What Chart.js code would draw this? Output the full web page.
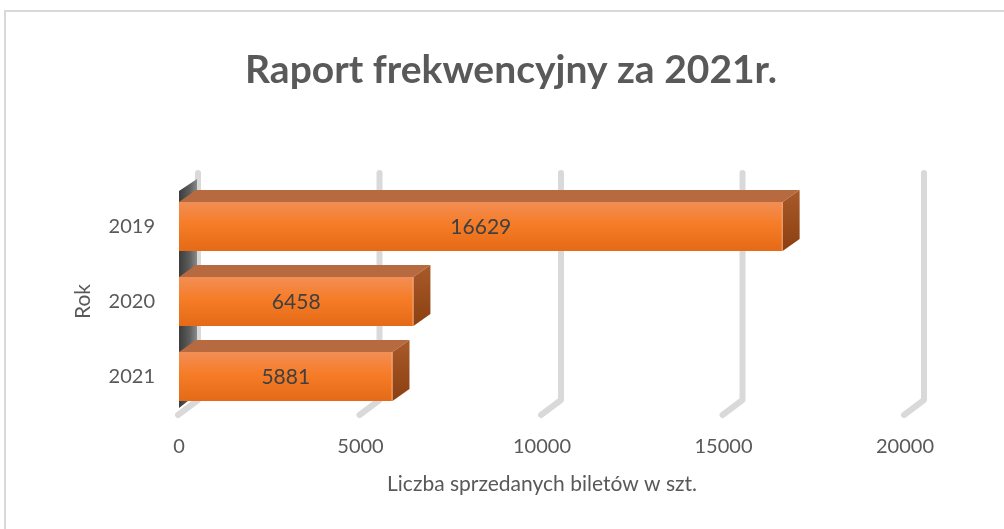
<!DOCTYPE html>
<html>
<head>
<meta charset="utf-8">
<script src="https://cdn.jsdelivr.net/npm/chart.js@4.4.1/dist/chart.umd.min.js"></script>
<style>
  html, body { margin: 0; padding: 0; background: #ffffff; }
  canvas { display: block; }
</style>
</head>
<body>
<canvas id="c" width="1004" height="529"></canvas>
<script>
// ---- data ----
const categories = ['2019', '2020', '2021'];
const ticketsSold = [16629, 6458, 5881];
const xTickValues = [0, 5000, 10000, 15000, 20000];
const xTickLabels = ['0', '5000', '10000', '15000', '20000'];
const chartTitle = 'Raport frekwencyjny za 2021r.';
const xAxisTitle = 'Liczba sprzedanych biletów w szt.';
const yAxisTitle = 'Rok';

const FONT = 'Lato, "Open Sans", sans-serif';
const TXT = '#595959';

// 3D depth offsets
const BAR_DX = 17, BAR_DY = -12;
const GRID_DX = 19, GRID_DY = -16;

const background3D = {
  id: 'background3D',
  beforeDraw(chart) {
    const ctx = chart.ctx;
    ctx.save();
    ctx.fillStyle = '#ffffff';
    ctx.fillRect(0, 0, chart.width, chart.height);
    ctx.strokeStyle = '#d9d9d9';
    ctx.lineWidth = 2;
    ctx.strokeRect(5, 11, chart.width + 20, chart.height + 20);
    ctx.restore();
  },
  beforeDatasetsDraw(chart) {
    const ctx = chart.ctx;
    const area = chart.chartArea;
    const xs = chart.scales.x;
    ctx.save();
    // gridlines (back wall + floor foot)
    ctx.strokeStyle = '#d9d9d9';
    ctx.lineWidth = 6;
    ctx.lineCap = 'round';
    ctx.lineJoin = 'round';
    xs.ticks.forEach(t => {
      const xf = xs.getPixelForValue(t.value);
      const xb = xf + GRID_DX;
      ctx.beginPath();
      ctx.moveTo(xb, area.top + GRID_DY);
      ctx.lineTo(xb, area.bottom + 2 + GRID_DY);
      ctx.lineTo(xf - 1, area.bottom + 1);
      ctx.stroke();
    });
    // left side wall
    const xl = area.left;
    const g = ctx.createLinearGradient(xl, 0, xl + 18, 0);
    g.addColorStop(0, '#3c3c3c');
    g.addColorStop(0.6, '#5e5e5e');
    g.addColorStop(1, '#8a8a8a');
    ctx.fillStyle = g;
    ctx.beginPath();
    ctx.moveTo(xl, area.top + 2);
    ctx.lineTo(xl + 18, area.top - 10);
    ctx.lineTo(xl + 18, area.bottom - 20);
    ctx.lineTo(xl, area.bottom - 6);
    ctx.closePath();
    ctx.fill();
    ctx.restore();
  },
  afterDatasetsDraw(chart) {
    const ctx = chart.ctx;
    const meta = chart.getDatasetMeta(0);
    ctx.save();
    meta.data.forEach((bar, i) => {
      const p = bar.getProps(['x', 'y', 'base', 'height'], true);
      const top = p.y - p.height / 2;
      const bot = p.y + p.height / 2;
      // top face
      ctx.fillStyle = '#b76a40';
      ctx.beginPath();
      ctx.moveTo(p.base, top);
      ctx.lineTo(p.x, top);
      ctx.lineTo(p.x + BAR_DX, top + BAR_DY);
      ctx.lineTo(p.base + BAR_DX, top + BAR_DY);
      ctx.closePath();
      ctx.fill();
      // right side face
      const sg = ctx.createLinearGradient(0, top + BAR_DY, 0, bot);
      sg.addColorStop(0, '#a85a2a');
      sg.addColorStop(1, '#8c3f10');
      ctx.fillStyle = sg;
      ctx.beginPath();
      ctx.moveTo(p.x, top);
      ctx.lineTo(p.x + BAR_DX, top + BAR_DY);
      ctx.lineTo(p.x + BAR_DX, bot + BAR_DY);
      ctx.lineTo(p.x, bot);
      ctx.closePath();
      ctx.fill();
      // front edge highlight
      ctx.strokeStyle = 'rgba(250,170,120,0.8)';
      ctx.lineWidth = 1;
      ctx.beginPath();
      ctx.moveTo(p.x - 0.5, top);
      ctx.lineTo(p.x - 0.5, bot);
      ctx.stroke();
      // value label
      ctx.fillStyle = '#404040';
      ctx.font = '21px ' + FONT;
      ctx.textAlign = 'center';
      ctx.textBaseline = 'middle';
      ctx.fillText(String(ticketsSold[i]), (p.base + p.x) / 2, p.y + 1);
    });
    ctx.restore();
  }
};

function frontFill(context) {
  const chart = context.chart;
  const ys = chart.scales && chart.scales.y;
  if (!chart.chartArea || !ys) return '#f47b26';
  const c = ys.getPixelForValue(context.dataIndex);
  const h = 49;
  const g = chart.ctx.createLinearGradient(0, c - h / 2, 0, c + h / 2);
  g.addColorStop(0, '#f28e55');
  g.addColorStop(0.45, '#f67c27');
  g.addColorStop(1, '#e46a17');
  return g;
}

new Chart(document.getElementById('c'), {
  type: 'bar',
  data: {
    labels: categories,
    datasets: [{
      data: ticketsSold,
      backgroundColor: frontFill,
      borderWidth: 0,
      barPercentage: 0.653,
      categoryPercentage: 1
    }]
  },
  plugins: [background3D],
  options: {
    indexAxis: 'y',
    responsive: false,
    animation: false,
    layout: { padding: { left: 18, right: 0, top: 0, bottom: 0 } },
    plugins: {
      legend: { display: false },
      tooltip: { enabled: false },
      title: {
        display: true,
        text: chartTitle,
        color: TXT,
        font: { family: FONT, size: 39, weight: 'bold', lineHeight: 1.2 },
        padding: { top: 46.6, bottom: 95.6 }
      }
    },
    scales: {
      x: {
        type: 'linear',
        position: 'bottom',
        min: 0,
        max: 20000,
        afterBuildTicks(scale) { scale.ticks = xTickValues.map(v => ({ value: v })); },
        afterFit(scale) { scale.height = 115; },
        grid: { display: false, drawTicks: false },
        border: { display: false },
        ticks: {
          color: TXT,
          font: { family: FONT, size: 20 },
          padding: 21,
          maxRotation: 0,
          autoSkip: false,
          callback: (v, i) => xTickLabels[i]
        },
        title: {
          display: true,
          text: xAxisTitle,
          color: TXT,
          font: { family: FONT, size: 21 },
          padding: { top: 0, bottom: 32.4 }
        }
      },
      y: {
        type: 'category',
        afterFit(scale) { scale.width = 161; },
        grid: { display: false, drawTicks: false },
        border: { display: false },
        ticks: {
          color: TXT,
          font: { family: FONT, size: 20 },
          padding: 24
        },
        title: {
          display: true,
          text: yAxisTitle,
          color: TXT,
          font: { family: FONT, size: 21 },
          padding: { top: 52.4, bottom: 0 }
        }
      },
      yRight: {
        type: 'category',
        position: 'right',
        labels: categories,
        afterFit(scale) { scale.width = 99; },
        grid: { display: false, drawTicks: false },
        border: { display: false },
        ticks: { display: false }
      }
    }
  }
});
</script>
</body>
</html>
